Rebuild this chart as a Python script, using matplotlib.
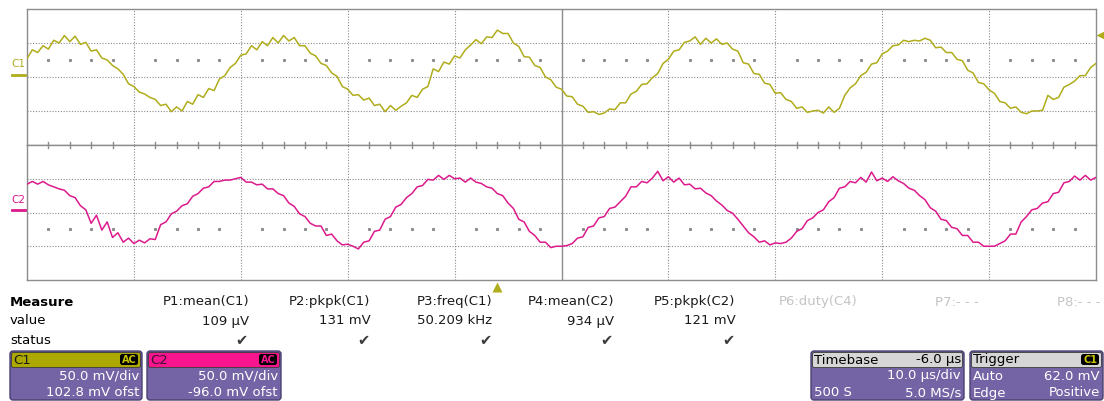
import numpy as np
import matplotlib
matplotlib.use("Agg")
import matplotlib.pyplot as plt
from matplotlib.patches import FancyBboxPatch
from matplotlib.transforms import blended_transform_factory

#scope traces, mV, one sample every 0.5 us from the left edge of the screen
sample_step_us = 0.5
c1_mv = [27, 40, 36, 46, 41, 54, 50, 61, 52, 60,
         48, 51, 38, 40, 28, 25, 17, 12, 4, -10,
         -14, -22, -25, -30, -33, -42, -40, -51, -44, -50,
         -36, -40, -26, -30, -17, -20, -3, 2, 14, 20,
         32, 34, 46, 40, 52, 46, 58, 50, 61, 53,
         58, 46, 46, 35, 31, 20, 17, 6, 1, -14,
         -18, -27, -26, -34, -31, -42, -40, -51, -42, -49,
         -43, -38, -27, -30, -18, -14, 12, 8, 22, 19,
         31, 28, 40, 47, 55, 49, 59, 58, 69, 64,
         64, 50, 45, 30, 29, 17, 14, 0, -4, -15,
         -18, -28, -29, -40, -43, -52, -51, -55, -53, -47,
         -48, -38, -38, -25, -21, -11, -10, -1, 5, 20,
         26, 38, 40, 51, 53, 59, 48, 57, 50, 56,
         48, 50, 41, 38, 21, 19, 5, 4, -9, -11,
         -24, -23, -33, -36, -46, -44, -52, -50, -49, -53,
         -44, -52, -46, -27, -16, -10, 2, 7, 19, 21,
         34, 38, 46, 47, 54, 52, 54, 53, 57, 54,
         43, 44, 36, 36, 26, 24, 10, 6, -8, -10,
         -19, -24, -36, -38, -46, -44, -52, -54, -50, -50,
         -49, -27, -33, -30, -15, -11, -6, 2, 2, 14,
         20]
c2_mv = [42, 46, 42, 46, 41, 38, 35, 33, 25, 22,
         10, 4, -16, -4, -26, -14, -37, -30, -44, -38,
         -46, -41, -45, -39, -40, -18, -14, -2, 2, 10,
         13, 24, 28, 36, 38, 46, 46, 48, 48, 50,
         52, 45, 45, 41, 42, 35, 35, 28, 25, 14,
         9, -2, -6, -16, -20, -20, -34, -32, -42, -48,
         -47, -50, -54, -44, -42, -28, -26, -10, -6, 8,
         12, 22, 28, 38, 40, 49, 48, 55, 49, 55,
         50, 51, 45, 51, 45, 43, 38, 36, 28, 25,
         14, 6, -10, -14, -28, -34, -44, -44, -52, -50,
         -50, -49, -46, -38, -36, -22, -20, -8, -6, 6,
         8, 16, 24, 38, 38, 46, 44, 51, 61, 47,
         53, 45, 51, 41, 42, 35, 36, 29, 25, 17,
         11, 3, -1, -10, -20, -30, -36, -44, -42, -48,
         -45, -46, -44, -38, -28, -24, -12, -8, 0, 4,
         16, 22, 36, 38, 46, 44, 52, 45, 60, 47,
         51, 46, 53, 47, 43, 36, 33, 25, 19, 7,
         2, -10, -12, -22, -24, -34, -34, -44, -44, -50,
         -50, -50, -46, -42, -32, -32, -14, -6, 4, 6,
         14, 16, 28, 30, 44, 46, 54, 48, 55, 48,
         52]

#trigger settings
trig_time_us = 44.0
trig_level_mv = 62.0

#measurement table
meas_names = ["P1:mean(C1)", "P2:pkpk(C1)", "P3:freq(C1)", "P4:mean(C2)",
              "P5:pkpk(C2)", "P6:duty(C4)", "P7:- - -", "P8:- - -"]
meas_values = ["109 µV", "131 mV", "50.209 kHz", "934 µV", "121 mV", "", "", ""]
meas_active = [True, True, True, True, True, False, False, False]

W, H = 1104, 401
c1_color = "#b0ac1c"
c2_color = "#dc1a8c"
grid_color = "#8c8c8c"
box_color = "#7464a6"
FONT = "DejaVu Sans"
FS = 9.5

fig = plt.figure(figsize=(W / 100, H / 100), dpi=100)
fig.patch.set_facecolor("white")


def px_axes(x0, y0, x1, y1):
    return fig.add_axes([x0 / W, 1 - y1 / H, (x1 - x0) / W, (y1 - y0) / H])


def draw_grid(ax, dot_row):
    ax.set_xlim(0, 100)
    ax.set_ylim(-100, 100)
    ax.set_xticks([])
    ax.set_yticks([])
    for s in ax.spines.values():
        s.set_color(grid_color)
        s.set_linewidth(1.0)
    for x in range(10, 100, 10):
        if x == 50:
            ax.axvline(x, color=grid_color, lw=1.0, zorder=1)
        else:
            ax.axvline(x, color=grid_color, lw=0.8, ls=(0, (1, 1.5)), zorder=1)
    for y in (-50, 0, 50):
        ax.axhline(y, color=grid_color, lw=0.8, ls=(0, (1, 1.5)), zorder=1)
    minor = [x for x in range(2, 100, 2) if x % 10 != 0]
    ax.plot(minor, [dot_row] * len(minor), ls="none", marker="s", ms=1.2,
            color=grid_color, zorder=1)


#top grid, channel 1
ax1 = px_axes(27, 9, 1096, 145)
draw_grid(ax1, 25)
t = np.arange(len(c1_mv)) * sample_step_us
ax1.plot(t, c1_mv, color=c1_color, lw=1.1, zorder=3)

#bottom grid, channel 2
ax2 = px_axes(27, 145, 1096, 280)
draw_grid(ax2, -25)
t2 = np.arange(len(c2_mv)) * sample_step_us
ax2.plot(t2, c2_mv, color=c2_color, lw=1.1, zorder=3)

#small ticks on the line between the two grids
minor = [x for x in range(2, 100, 2) if x % 10 != 0]
for x in minor:
    ax1.plot([x, x], [-100, -95], color=grid_color, lw=1.0, clip_on=False, zorder=2)
    ax2.plot([x, x], [100, 95], color=grid_color, lw=1.0, clip_on=False, zorder=2)

#trigger markers
tr = blended_transform_factory(ax2.transData, ax2.transAxes)
ax2.plot([trig_time_us], [-0.05], marker="^", ms=7, color=c1_color,
         transform=tr, clip_on=False, mec="none")
tr = blended_transform_factory(ax1.transAxes, ax1.transData)
ax1.plot([1.004], [trig_level_mv], marker="<", ms=6, color=c1_color,
         transform=tr, clip_on=False, mec="none")

#overlay in pixel coordinates for the labels and boxes
ov = fig.add_axes([0, 0, 1, 1])
ov.set_xlim(0, W)
ov.set_ylim(H, 0)
ov.axis("off")

#channel labels on the left
ov.text(18, 64, "C1", color=c1_color, fontsize=7.5, ha="center", va="center", family=FONT)
ov.plot([12, 25], [75, 75], color=c1_color, lw=2)
ov.text(18, 200, "C2", color=c2_color, fontsize=7.5, ha="center", va="center", family=FONT)
ov.plot([12, 25], [210, 210], color=c2_color, lw=2)

#measurement table
ov.text(10, 302, "Measure", fontsize=FS, fontweight="bold", va="center", family=FONT)
ov.text(10, 321, "value", fontsize=FS, va="center", family=FONT)
ov.text(10, 340, "status", fontsize=FS, va="center", family=FONT)
for i, name in enumerate(meas_names):
    xr = 249 + i * 121.6
    col = "#1a1a1a" if meas_active[i] else "#c4c4c4"
    ov.text(xr, 302, name, fontsize=FS, ha="right", va="center", color=col, family=FONT)
    if meas_values[i]:
        ov.text(xr, 321, meas_values[i], fontsize=FS, ha="right", va="center",
                color=col, family=FONT)
    if meas_active[i]:
        ov.text(xr - 1, 340, "\u2714", fontsize=10.5, ha="right", va="center",
                color="#3c3c3c", family=FONT)


def draw_box(x0, x1, head_color, head_text_color, title, right, rows):
    body = FancyBboxPatch((x0, 351), x1 - x0, 49, boxstyle="round,pad=0,rounding_size=3",
                          fc=box_color, ec="#4a4070", lw=1.0)
    ov.add_patch(body)
    head = FancyBboxPatch((x0 + 1.5, 352.5), x1 - x0 - 3, 15, boxstyle="round,pad=0,rounding_size=2",
                          fc=head_color, ec="#3a3a3a", lw=0.6)
    ov.add_patch(head)
    ov.text(x0 + 3, 360, title, fontsize=FS, va="center", color=head_text_color, family=FONT)
    if right is not None:
        kind, label, col = right
        if kind == "badge":
            badge = FancyBboxPatch((x1 - 22, 354), 18, 11, boxstyle="round,pad=0,rounding_size=2.5",
                                   fc="black", ec="none")
            ov.add_patch(badge)
            ov.text(x1 - 13, 360, label, fontsize=7, fontweight="bold", ha="center",
                    va="center", color=col, family=FONT)
        else:
            ov.text(x1 - 3, 360, label, fontsize=FS, ha="right", va="center",
                    color="black", family=FONT)
    for y, left, rt in rows:
        if left:
            ov.text(x0 + 3, y, left, fontsize=FS, va="center", color="white", family=FONT)
        if rt:
            ov.text(x1 - 3, y, rt, fontsize=FS, ha="right", va="center", color="white", family=FONT)


draw_box(10, 142, "#aca800", "#1a1a1a", "C1", ("badge", "AC", "#c8c400"),
         [(376, "", "50.0 mV/div"), (393, "", "102.8 mV ofst")])
draw_box(147, 281, "#f8158e", "#3a1030", "C2", ("badge", "AC", "#f8158e"),
         [(376, "", "50.0 mV/div"), (393, "", "-96.0 mV ofst")])
draw_box(811, 964, "#d6d6d6", "black", "Timebase", ("text", "-6.0 µs", None),
         [(376, "", "10.0 µs/div"), (393, "500 S", "5.0 MS/s")])
draw_box(970, 1103, "#d6d6d6", "black", "Trigger", ("badge", "C1", "#c8c400"),
         [(376, "Auto", "62.0 mV"), (393, "Edge", "Positive")])

fig.savefig("out.png", dpi=100)
